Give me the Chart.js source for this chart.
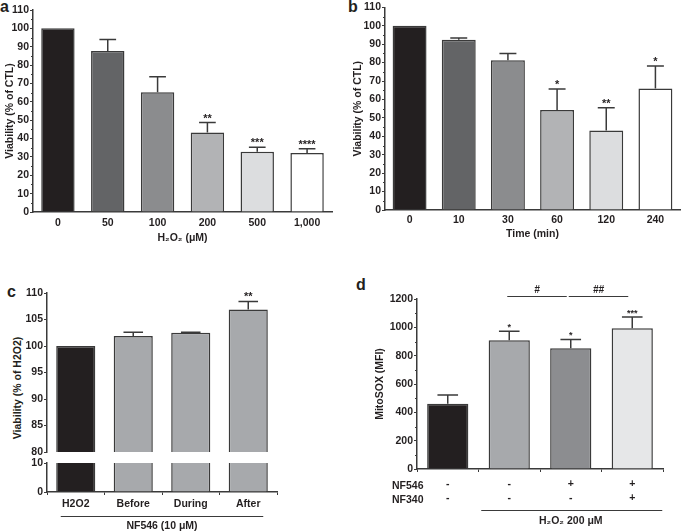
<!DOCTYPE html>
<html>
<head>
<meta charset="utf-8">
<script src="https://cdn.jsdelivr.net/npm/chart.js@4.4.0/dist/chart.umd.min.js"></script>
<style>
    body { margin: 0; background: #fff; width: 685px; height: 532px; position: relative; overflow: hidden; font-family: "Liberation Sans", Arial, sans-serif; color: #231f20; }
    canvas { position: absolute; }
    .panel { position: absolute; font-weight: bold; font-size: 16px; line-height: 16px; }
    .ytitle { position: absolute; font-weight: bold; font-size: 10.5px; white-space: nowrap; transform: translate(-50%, -50%) rotate(-90deg); }
</style>
</head>
<body>
<div class="panel" style="left:0px;top:-1px">a</div>
<div class="panel" style="left:348px;top:-1px">b</div>
<div class="panel" style="left:7px;top:284px">c</div>
<div class="panel" style="left:356px;top:277px">d</div>
<div class="ytitle" style="left:17px;top:388px">Viability (% of H2O2)</div>

<canvas id="chartA" width="340" height="270" style="left:0;top:0"></canvas>
<canvas id="chartB" width="345" height="270" style="left:340px;top:0"></canvas>
<canvas id="chartCTop" width="340" height="180" style="left:0;top:280px"></canvas>
<canvas id="chartCBottom" width="340" height="77" style="left:0;top:455px"></canvas>
<canvas id="chartD" width="345" height="252" style="left:340px;top:280px"></canvas>

<script>
// panel a - H2O2 dose
const doseLabels = ['0', '50', '100', '200', '500', '1,000'];
const doseViability = [100, 87.7, 65.2, 43.3, 32.8, 32.1];
const doseError = [0, 6.3, 8.5, 5.4, 2.5, 2.3];
const doseStars = ['', '', '', '**', '***', '****'];

// panel b - exposure time
const timeLabels = ['0', '10', '30', '60', '120', '240'];
const timeViability = [100, 92.4, 81.3, 54.2, 43.1, 65.9];
const timeError = [0, 1.0, 3.6, 11.5, 12.4, 12.2];
const timeStars = ['', '', '', '*', '**', '*'];

// panel c - NF546 timing (broken axis)
const nfLabels = ['H2O2', 'Before', 'During', 'After'];
const nfViability = [100, 101.9, 102.5, 106.9];
const nfError = [0, 0.7, 0.1, 1.5];
const nfStars = ['', '', '', '**'];

// panel d - MitoSOX
const soxNF546 = ['-', '-', '+', '+'];
const soxNF340 = ['-', '-', '-', '+'];
const soxValues = [460, 908, 852, 993];
const soxError = [63, 64, 63, 80];
const soxStars = ['', '*', '*', '***'];
const soxSig = [[1, 2, '#'], [2, 3, '##']];

const greysSix = ['#231f20', '#636466', '#8b8c8e', '#b2b3b5', '#dcdddf', '#ffffff'];
const greysC = ['#231f20', '#a7a9ac', '#a7a9ac', '#a7a9ac'];
const greysD = ['#231f20', '#a7a9ac', '#8c8d90', '#e6e7e8'];

const axisColor = '#3a3a3a';
const textColor = '#231f20';
const FAMILY = '"Liberation Sans", Arial, sans-serif';
const tickFont = { family: FAMILY, weight: 'bold', size: 10.5 };

function errorBars(errors, stars, starSize) {
    return {
        id: 'errorBars',
        afterDatasetsDraw(chart) {
            const { ctx, scales: { y } } = chart;
            const vals = chart.data.datasets[0].data;
            ctx.save();
            ctx.strokeStyle = axisColor;
            ctx.lineWidth = 1.5;
            ctx.fillStyle = textColor;
            ctx.font = `bold ${starSize}px ${FAMILY}`;
            ctx.textAlign = 'center';
            ctx.textBaseline = 'alphabetic';
            chart.getDatasetMeta(0).data.forEach((bar, i) => {
                const top = y.getPixelForValue(vals[i] + errors[i]);
                const half = bar.width / 4;
                if (errors[i] > 0) {
                    ctx.beginPath();
                    ctx.moveTo(bar.x, bar.y);
                    ctx.lineTo(bar.x, top);
                    ctx.moveTo(bar.x - half, top);
                    ctx.lineTo(bar.x + half, top);
                    ctx.stroke();
                }
                if (stars[i]) ctx.fillText(stars[i], bar.x, top - 1);
            });
            ctx.restore();
        }
    };
}

function minorTicks(step, major) {
    return {
        id: 'minorTicks',
        afterDraw(chart) {
            const { ctx, scales: { y } } = chart;
            ctx.save();
            ctx.strokeStyle = axisColor;
            ctx.lineWidth = 1;
            for (let v = y.min; v <= y.max; v += step) {
                if (v % major === 0) continue;
                const py = Math.round(y.getPixelForValue(v)) + 0.5;
                ctx.beginPath();
                ctx.moveTo(y.right - 2, py);
                ctx.lineTo(y.right, py);
                ctx.stroke();
            }
            ctx.restore();
        }
    };
}

function yAxis(min, max, step, width, title, titlePad) {
    return {
        min: min, max: max,
        ticks: { stepSize: step, color: textColor, font: tickFont, padding: 1, callback: v => String(v) },
        grid: { drawOnChartArea: false, drawTicks: true, tickLength: 3, color: axisColor, lineWidth: 1 },
        border: { color: axisColor, width: 1.5 },
        title: { display: !!title, text: title, color: textColor, font: tickFont, padding: { top: titlePad } },
        afterFit: s => { s.width = width; }
    };
}

function xAxis(height, labelPad, title, titlePad, tickMarks, lineHeight) {
    return {
        ticks: {
            color: textColor, font: Object.assign({ lineHeight: lineHeight || 1.2 }, tickFont),
            padding: labelPad, maxRotation: 0, autoSkip: false
        },
        grid: tickMarks
            ? { drawOnChartArea: false, drawTicks: true, tickLength: 3, color: axisColor }
            : { display: false, drawTicks: false, tickLength: 0 },
        border: { color: axisColor, width: 1.5 },
        title: { display: !!title, text: title, color: textColor, font: tickFont, padding: { top: 0, bottom: titlePad } },
        afterFit: s => { s.height = height; }
    };
}

function barChart(id, o) {
    return new Chart(document.getElementById(id), {
        type: 'bar',
        data: {
            labels: o.labels,
            datasets: [{
                data: o.values,
                backgroundColor: o.colors,
                borderColor: axisColor,
                borderWidth: 1.5,
                borderSkipped: o.skip === undefined ? 'start' : o.skip,
                barPercentage: o.barPct,
                categoryPercentage: 1
            }]
        },
        options: {
            responsive: false,
            animation: false,
            events: [],
            layout: { autoPadding: false, padding: o.pad },
            plugins: { legend: { display: false }, tooltip: { enabled: false } },
            scales: { x: o.x, y: o.y }
        },
        plugins: o.plugins
    });
}

barChart('chartA', {
    labels: doseLabels, values: doseViability, colors: greysSix, barPct: 0.67,
    pad: { left: 0, top: 10, right: 8, bottom: 0 },
    x: xAxis(58, 5, 'H\u2082O\u2082 (\u03bcM)', 26, false),
    y: yAxis(0, 110, 10, 33, 'Viability (% of CTL)', 4),
    plugins: [errorBars(doseError, doseStars, 11), minorTicks(5, 10)]
});

barChart('chartB', {
    labels: timeLabels, values: timeViability, colors: greysSix, barPct: 0.69,
    pad: { left: 0, top: 6, right: 5, bottom: 0 },
    x: xAxis(60, 4, 'Time (min)', 30, false),
    y: yAxis(0, 110, 10, 45, 'Viability (% of CTL)', 12),
    plugins: [errorBars(timeError, timeStars, 11), minorTicks(5, 10)]
});

// panel c, upper part of the broken axis (80-110)
const cTopX = xAxis(0, 0, '', 0, false);
cTopX.display = false;
barChart('chartCTop', {
    labels: nfLabels, values: nfViability, colors: greysC, barPct: 0.68, skip: false,
    pad: { left: 0, top: 13, right: 63, bottom: 8 },
    x: cTopX,
    y: yAxis(80, 110, 5, 47, '', 0),
    plugins: [errorBars(nfError, nfStars, 11)]
});

// panel c, lower part of the broken axis (0-10)
const bracketC = {
    id: 'bracketC',
    afterDraw(chart) {
        const { ctx, scales: { x } } = chart;
        const yLine = 61.5;
        ctx.save();
        ctx.strokeStyle = axisColor;
        ctx.lineWidth = 1;
        ctx.beginPath();
        ctx.moveTo(x.getPixelForValue(0) - 15, yLine);
        ctx.lineTo(x.getPixelForValue(nfLabels.length - 1) + 15, yLine);
        ctx.stroke();
        ctx.restore();
    }
};
barChart('chartCBottom', {
    labels: nfLabels, values: nfViability, colors: greysC, barPct: 0.68,
    pad: { left: 0, top: 8, right: 63, bottom: 0 },
    x: xAxis(40, 3, 'NF546 (10 \u03bcM)', 0, true),
    y: yAxis(0, 10, 5, 47, '', 0),
    plugins: [bracketC]
});

// panel d
const soxAnnot = {
    id: 'soxAnnot',
    afterDraw(chart) {
        const { ctx, scales: { x, y }, chartArea } = chart;
        ctx.save();
        ctx.strokeStyle = axisColor;
        ctx.fillStyle = textColor;
        ctx.lineWidth = 1;
        // comparison lines above the bars
        const ySig = Math.round(y.getPixelForValue(1220)) + 0.5;
        ctx.font = `italic bold 10px ${FAMILY}`;
        ctx.textAlign = 'center';
        ctx.textBaseline = 'alphabetic';
        soxSig.forEach(([a, b, mark]) => {
            const x1 = x.getPixelForValue(a) - 2, x2 = x.getPixelForValue(b) - 4;
            ctx.beginPath();
            ctx.moveTo(x1, ySig);
            ctx.lineTo(x2, ySig);
            ctx.stroke();
            ctx.fillText(mark, (x1 + x2) / 2, ySig - 4);
        });
        // row names for the +/- table
        ctx.font = `bold 10.5px ${FAMILY}`;
        ctx.textAlign = 'left';
        ctx.textBaseline = 'middle';
        ctx.fillText('NF546', 52, chartArea.bottom + 17);
        ctx.fillText('NF340', 52, chartArea.bottom + 31);
        // H2O2 bracket
        const yLine = chartArea.bottom + 41.5;
        ctx.beginPath();
        ctx.moveTo(x.getPixelForValue(1) - 28, yLine);
        ctx.lineTo(x.getPixelForValue(3) + 30, yLine);
        ctx.stroke();
        ctx.textAlign = 'center';
        ctx.fillText('H\u2082O\u2082 200 \u03bcM', x.getPixelForValue(2), chartArea.bottom + 52);
        ctx.restore();
    }
};
barChart('chartD', {
    labels: soxNF546.map((v, i) => [v, soxNF340[i]]), values: soxValues, colors: greysD, barPct: 0.67,
    pad: { left: 0, top: 19, right: 22, bottom: 0 },
    x: xAxis(63, 5, '', 0, true, 14 / 10.5),
    y: yAxis(0, 1200, 200, 77, 'MitoSOX (MFI)', 34),
    plugins: [errorBars(soxError, soxStars, 9), minorTicks(100, 200), soxAnnot]
});
</script>
</body>
</html>
